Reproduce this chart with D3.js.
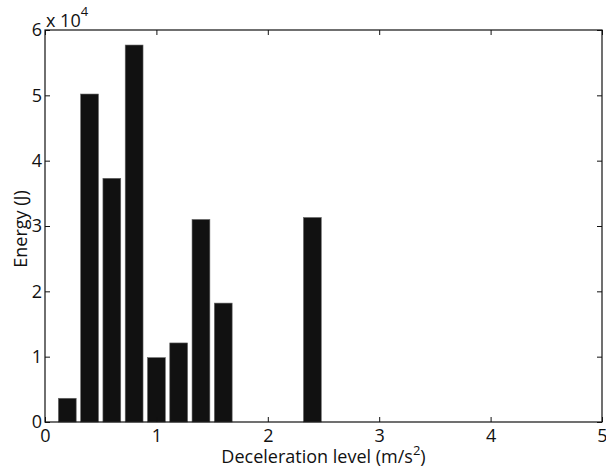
<!DOCTYPE html>
<html>
<head>
<meta charset="utf-8">
<title></title>
<script src="https://cdnjs.cloudflare.com/ajax/libs/d3/7.8.5/d3.min.js"></script>
<style>
  body { margin: 0; background: #fff; }
  text { font-family: "Open Sans", Lato, sans-serif; fill: #111; }
</style>
</head>
<body>
<script>
// deceleration levels (m/s^2) and energy (J)
const levels = [0.2, 0.4, 0.6, 0.8, 1.0, 1.2, 1.4, 1.6, 1.8, 2.0, 2.2, 2.4];
const energy = [3630, 50200, 37300, 57700, 9850, 12100, 31000, 18200, 0, 0, 0, 31300];
const xTicks = [0, 1, 2, 3, 4, 5];
const yTicks = [0, 1, 2, 3, 4, 5, 6];  // x 10^4

const width = 606, height = 473;
const margin = {top: 30, right: 4, bottom: 51, left: 45};
const fs = 18;

const svg = d3.select('body').append('svg')
  .attr('width', width)
  .attr('height', height);

const x = d3.scaleLinear().domain([0, 5]).range([margin.left, width - margin.right]);
const y = d3.scaleLinear().domain([0, 6e4]).range([height - margin.bottom, margin.top]);

const barW = (x(0.2) - x(0)) * 0.8;

// bars
svg.append('g')
  .selectAll('rect')
  .data(levels.map((l, i) => ({l: l, v: energy[i]})).filter(d => d.v > 0))
  .enter().append('rect')
  .attr('x', d => x(d.l) - barW / 2)
  .attr('width', barW)
  .attr('y', d => y(d.v))
  .attr('height', d => y(0) - y(d.v))
  .attr('fill', '#111')
  .attr('stroke', '#666')
  .attr('stroke-width', 0.6);

const tickLen = 5;

// bottom axis, ticks inward
svg.append('g')
  .attr('transform', `translate(0,${y(0)})`)
  .call(d3.axisBottom(x).tickValues(xTicks).tickSizeInner(-tickLen).tickSizeOuter(0)
    .tickPadding(7).tickFormat(d3.format('d')))
  .call(g => g.select('.domain').remove())
  .call(g => g.selectAll('text').attr('font-size', fs).attr('fill', '#111'));

// top ticks
svg.append('g')
  .attr('transform', `translate(0,${y(6e4)})`)
  .call(d3.axisTop(x).tickValues(xTicks).tickSizeInner(-tickLen).tickSizeOuter(0).tickFormat(''))
  .call(g => g.select('.domain').remove());

// left axis
svg.append('g')
  .attr('transform', `translate(${x(0)},0)`)
  .call(d3.axisLeft(y).tickValues(yTicks.map(t => t * 1e4)).tickSizeInner(-tickLen).tickSizeOuter(0)
    .tickPadding(3).tickFormat(d => d3.format('d')(d / 1e4)))
  .call(g => g.select('.domain').remove())
  .call(g => g.selectAll('text').attr('font-size', fs).attr('fill', '#111'));

// right ticks
svg.append('g')
  .attr('transform', `translate(${x(5)},0)`)
  .call(d3.axisRight(y).tickValues(yTicks.map(t => t * 1e4)).tickSizeInner(-tickLen).tickSizeOuter(0).tickFormat(''))
  .call(g => g.select('.domain').remove());

svg.selectAll('.tick line').attr('stroke', '#111');

// box
svg.append('rect')
  .attr('x', x(0)).attr('y', y(6e4))
  .attr('width', x(5) - x(0)).attr('height', y(0) - y(6e4))
  .attr('fill', 'none').attr('stroke', '#111').attr('stroke-width', 1.2);

// exponent label
const ex = svg.append('text')
  .attr('x', x(0) + 1).attr('y', y(6e4) - 3)
  .attr('font-size', fs);
ex.append('tspan').text('x 10');
ex.append('tspan').attr('dy', -11).attr('font-size', 13).text('4');

// x label
const xl = svg.append('text')
  .attr('x', (x(0) + x(5)) / 2).attr('y', height - 10)
  .attr('text-anchor', 'middle')
  .attr('font-size', fs);
xl.append('tspan').text('Deceleration level (m/s');
xl.append('tspan').attr('dy', -8).attr('font-size', 13).text('2');
xl.append('tspan').attr('dy', 8).text(')');

// y label
svg.append('text')
  .attr('transform', `translate(27,${(y(0) + y(6e4)) / 2 + 3}) rotate(-90)`)
  .attr('text-anchor', 'middle')
  .attr('font-size', fs)
  .text('Energy (J)');
</script>
</body>
</html>
